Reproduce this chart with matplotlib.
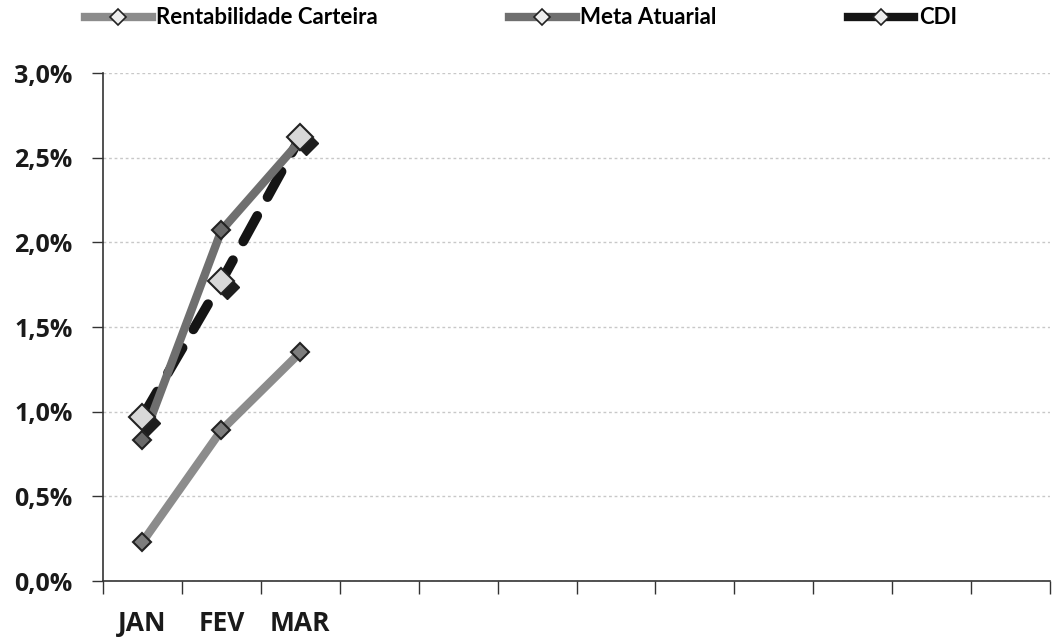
import matplotlib
matplotlib.use("Agg")
import matplotlib.pyplot as plt
import matplotlib.transforms as mtransforms
from matplotlib.ticker import FuncFormatter, MultipleLocator, FixedLocator, NullFormatter
from matplotlib.lines import Line2D

plt.rcParams['font.family'] = ['Open Sans', 'DejaVu Sans']

months_all = ["JAN", "FEV", "MAR", "ABR", "MAI", "JUN", "JUL", "AGO", "SET", "OUT", "NOV", "DEZ"]
month_labels = ["JAN", "FEV", "MAR"]
rentabilidade = [0.23, 0.89, 1.35]
meta = [0.83, 2.07, 2.60]
cdi = [0.97, 1.77, 2.62]

fig = plt.figure(figsize=(10.52, 6.4), dpi=100)
ax = fig.add_axes([103/1052, 1-581/640, 947/1052, (581-73)/640])

x = list(range(len(month_labels)))
ax.plot(x, rentabilidade, color="#8c8c8c", lw=6, marker="D", ms=9,
        mfc="#7d7d7d", mec="#222222", mew=1.5, solid_capstyle="round", zorder=3)
ax.plot(x, meta, color="#6f6f6f", lw=6, marker="D", ms=9,
        mfc="#6a6a6a", mec="#222222", mew=1.5, solid_capstyle="round", zorder=3)
ax.plot(x, cdi, color="#151515", lw=7, ls=(0, (3, 2.2)), dash_capstyle="round", zorder=2)
shadow = mtransforms.offset_copy(ax.transData, fig=fig, x=6, y=-6, units="dots")
ax.plot(x, cdi, ls="none", marker="D", ms=12, mfc="#1e1e1e", mec="#1e1e1e",
        transform=shadow, zorder=3.5)
ax.plot(x, cdi, ls="none", marker="D", ms=13, mfc="#d8d8d8", mec="#222222", mew=1.5, zorder=4)

ax.set_xlim(-0.5, 11.5)
ax.set_ylim(0, 3.0)
ax.yaxis.set_major_locator(MultipleLocator(0.5))
ax.yaxis.set_major_formatter(FuncFormatter(lambda v, p: f"{v:.1f}%".replace(".", ",")))
ax.grid(axis="y", color="#c8c8c8", lw=1, ls=(0, (2, 2)))
ax.set_axisbelow(True)

ax.xaxis.set_major_locator(FixedLocator([i - 0.5 for i in range(13)]))
ax.xaxis.set_major_formatter(NullFormatter())
ax.xaxis.set_minor_locator(FixedLocator(x))
ax.set_xticklabels(month_labels, minor=True)
ax.tick_params(axis="x", which="major", length=9, width=1, direction="out", color="#333333")
ax.tick_params(axis="x", which="minor", length=0, pad=21, labelsize=19)
ax.tick_params(axis="y", length=8, width=1, direction="out", color="#333333", labelsize=18, pad=14)
for lab in ax.get_xticklabels(minor=True) + ax.get_yticklabels():
    lab.set_fontweight("bold")
    lab.set_color("#1a1a1a")

for s in ["top", "right"]:
    ax.spines[s].set_visible(False)
for s in ["left", "bottom"]:
    ax.spines[s].set_color("#333333")
    ax.spines[s].set_linewidth(1.2)

handles = [
    Line2D([], [], color="#8c8c8c", lw=6, marker="D", ms=8, mfc="#eeeeee", mec="#222222", mew=1.2),
    Line2D([], [], color="#6f6f6f", lw=6, marker="D", ms=8, mfc="#eeeeee", mec="#222222", mew=1.2),
    Line2D([], [], color="#151515", lw=6, marker="D", ms=8, mfc="#eeeeee", mec="#222222", mew=1.2),
]
labels = ["Rentabilidade Carteira", "Meta Atuarial", "CDI"]
leg = fig.legend(handles, labels, loc="center left", bbox_to_anchor=(65/1052, 1-18/640),
                 ncol=3, frameon=False, handlelength=3.0, handletextpad=0.2,
                 columnspacing=5.9, prop={"family": ["Lato", "DejaVu Sans"], "weight": "bold", "size": 16})

fig.savefig("out.png", dpi=100)
